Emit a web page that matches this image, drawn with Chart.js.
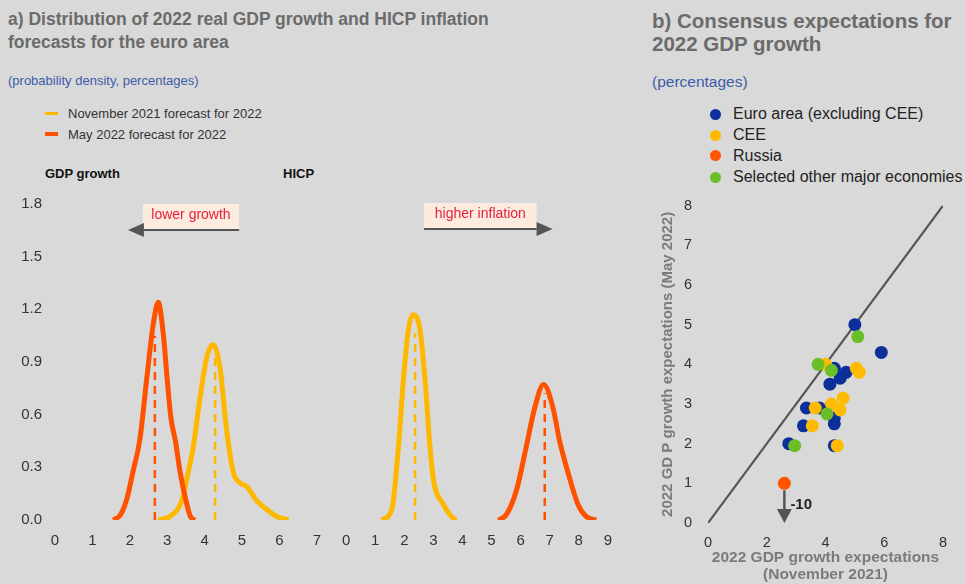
<!DOCTYPE html>
<html>
<head>
<meta charset="utf-8">
<script src="https://cdn.jsdelivr.net/npm/chart.js@4.4.0/dist/chart.umd.min.js"></script>
<style>
  body { margin: 0; width: 965px; height: 584px; overflow: hidden; position: relative;
         background: #d9d9d9; font-family: "Liberation Sans", Arial, sans-serif; }
  .t { position: absolute; white-space: nowrap; }
  canvas { position: absolute; }
  .title { font-weight: bold; color: #6b6b6b; }
  .sub { color: #3d5ca8; }
  .mk { position: absolute; }
</style>
</head>
<body>
<div class="t title" style="left:8px;top:8px;font-size:17.5px;line-height:23px">a) Distribution of 2022 real GDP growth and HICP inflation<br>forecasts for the euro area</div>
<div class="t sub" style="left:8px;top:72px;font-size:13px;line-height:17px">(probability density, percentages)</div>
<div class="mk" style="left:45px;top:111.5px;width:13px;height:3.5px;background:#ffb800"></div>
<div class="t" style="left:68px;top:105px;font-size:13px;line-height:17px;color:#333">November 2021 forecast for 2022</div>
<div class="mk" style="left:45px;top:132px;width:13px;height:3.5px;background:#ff5200"></div>
<div class="t" style="left:68px;top:125.5px;font-size:13px;line-height:17px;color:#333">May 2022 forecast for 2022</div>
<div class="t" style="left:45px;top:164.5px;font-size:13px;line-height:17px;font-weight:bold;color:#111">GDP growth</div>
<div class="t" style="left:283px;top:164.5px;font-size:13px;line-height:17px;font-weight:bold;color:#111">HICP</div>

<div class="t title" style="left:652px;top:9px;font-size:20.5px;line-height:23px">b) Consensus expectations for<br>2022 GDP growth</div>
<div class="t sub" style="left:652px;top:72px;font-size:15.5px;line-height:19px">(percentages)</div>
<div id="legB"></div>

<canvas id="gdp" width="333" height="378" style="left:0;top:182px"></canvas>
<canvas id="hicp" width="294" height="370" style="left:330px;top:190px"></canvas>
<canvas id="cons" width="325" height="403" style="left:640px;top:181px"></canvas>

<script>
// panel a: density curves (x = percentages, y = probability density)
const gdpNovX = [2.76, 3.07, 3.39, 3.52, 3.70, 3.88, 4.06, 4.22, 4.41, 4.59, 4.77, 4.95, 5.13, 5.39, 5.66, 5.93, 6.24];
const gdpNovY = [0, 0.02, 0.11, 0.23, 0.42, 0.70, 0.93, 1.00, 0.87, 0.51, 0.27, 0.21, 0.19, 0.11, 0.06, 0.02, 0];
const gdpMayX = [1.56, 1.75, 1.92, 2.09, 2.27, 2.45, 2.63, 2.76, 2.90, 3.00, 3.10, 3.22, 3.34, 3.48, 3.62, 3.74];
const gdpMayY = [0, 0.03, 0.12, 0.28, 0.46, 0.80, 1.12, 1.24, 1.05, 0.80, 0.58, 0.45, 0.28, 0.13, 0.02, 0];
const hicpNovX = [1.22, 1.57, 1.80, 1.97, 2.14, 2.31, 2.54, 2.71, 2.88, 3.00, 3.34, 3.68, 3.80];
const hicpNovY = [0, 0.06, 0.42, 0.80, 1.08, 1.165, 1.08, 0.80, 0.42, 0.23, 0.09, 0.01, 0];
const hicpMayX = [5.23, 5.51, 5.86, 6.20, 6.49, 6.79, 7.11, 7.34, 7.63, 7.97, 8.26, 8.60];
const hicpMayY = [0, 0.03, 0.17, 0.42, 0.64, 0.77, 0.64, 0.45, 0.27, 0.09, 0.02, 0];
// medians (dashed lines): [x, height]
const gdpNovMedian = [4.28, 0.93];
const gdpMayMedian = [2.67, 1.05];
const hicpNovMedian = [2.37, 1.06];
const hicpMayMedian = [6.83, 0.72];

// panel b: Nov 2021 expectation (x) vs May 2022 expectation (y)
const euroX = [5.0, 5.9, 4.3, 4.5, 4.7, 4.15, 3.35, 3.8, 4.3, 4.3, 3.25, 2.75, 4.3];
const euroY = [5.0, 4.3, 3.9, 3.65, 3.8, 3.5, 2.9, 2.9, 2.65, 2.5, 2.45, 2.0, 1.95];
const ceeX = [4.0, 5.05, 5.15, 4.6, 4.2, 3.65, 4.5, 3.55, 4.4];
const ceeY = [4.0, 3.9, 3.8, 3.15, 3.0, 2.9, 2.85, 2.45, 1.95];
const russiaX = [2.6];
const russiaY = [1.0];
const otherX = [5.1, 3.75, 4.2, 4.05, 2.95];
const otherY = [4.7, 4.0, 3.85, 2.75, 1.95];

const YELLOW = "#ffb800";
const RED = "#ff5200";
const pts = (xs, ys) => xs.map((x, i) => ({ x: x, y: ys[i] }));

function curve(xs, ys, color) {
  return { data: pts(xs, ys), borderColor: color, borderWidth: 5, pointRadius: 0,
           cubicInterpolationMode: "monotone", fill: false };
}
function median(m, color) {
  return { data: [{ x: m[0], y: 0 }, { x: m[0], y: m[1] }], borderColor: color, borderWidth: 2.5,
           borderDash: [8, 6], pointRadius: 0, fill: false };
}

// callout box with arrow ("lower growth" / "higher inflation")
function calloutPlugin(x0, x1, tip, text) {
  return {
    id: "callout",
    afterDatasetsDraw(chart) {
      const ctx = chart.ctx, xs = chart.scales.x, ys = chart.scales.y;
      const l = xs.getPixelForValue(x0), r = xs.getPixelForValue(x1);
      const top = ys.getPixelForValue(1.8), bot = ys.getPixelForValue(1.658);
      const t = xs.getPixelForValue(tip);
      ctx.save();
      ctx.fillStyle = "#fcece0";
      ctx.fillRect(l, top, r - l, bot - top);
      ctx.fillStyle = "#e8203a";
      ctx.font = "14px 'Liberation Sans', Arial, sans-serif";
      ctx.textAlign = "center";
      ctx.textBaseline = "middle";
      ctx.fillText(text, (l + r) / 2, (top + bot) / 2 - 1);
      ctx.strokeStyle = "#555";
      ctx.fillStyle = "#555";
      ctx.lineWidth = 2;
      const ay = bot + 1;
      const hb = t < l ? t + 16 : t - 16;
      ctx.beginPath();
      ctx.moveTo(t < l ? r : l, ay);
      ctx.lineTo(hb, ay);
      ctx.stroke();
      ctx.beginPath();
      ctx.moveTo(t, ay);
      ctx.lineTo(hb, ay - 7);
      ctx.lineTo(hb, ay + 7);
      ctx.closePath();
      ctx.fill();
      ctx.restore();
    }
  };
}

function densityOptions(xMax, showY, pad) {
  const yScale = { display: showY, min: 0, max: 1.8,
           ticks: { stepSize: 0.3, autoSkip: false, padding: 13, color: "#333", font: { size: 15 },
                    callback: v => v.toFixed(1) },
           grid: { display: false, drawTicks: false }, border: { display: false } };
  if (showY) yScale.afterFit = s => { s.width = 55; };
  return {
    responsive: false, animation: false, devicePixelRatio: 1,
    layout: { padding: pad },
    plugins: { legend: { display: false }, tooltip: { enabled: false } },
    scales: {
      x: { type: "linear", min: 0, max: xMax,
           ticks: { stepSize: 1, autoSkip: false, padding: 12, color: "#333", font: { size: 15 } },
           grid: { display: false, drawTicks: false }, border: { display: false },
           afterFit(s) { s.height = 40; } },
      y: yScale
    }
  };
}

new Chart(document.getElementById("gdp"), {
  type: "line",
  data: { datasets: [
    curve(gdpMayX, gdpMayY, RED), curve(gdpNovX, gdpNovY, YELLOW),
    median(gdpMayMedian, RED), median(gdpNovMedian, YELLOW)
  ] },
  options: densityOptions(7, true, { top: 0, right: 0, left: 0, bottom: 0 }),
  plugins: [calloutPlugin(2.35, 4.92, 1.95, "lower growth")]
});

new Chart(document.getElementById("hicp"), {
  type: "line",
  data: { datasets: [
    curve(hicpNovX, hicpNovY, YELLOW), curve(hicpMayX, hicpMayY, RED),
    median(hicpNovMedian, YELLOW), median(hicpMayMedian, RED)
  ] },
  options: densityOptions(9, false, { top: 13, right: 0, left: 0, bottom: 0 }),
  plugins: [calloutPlugin(2.68, 6.55, 7.1, "higher inflation")]
});

// panel b
const BLUE = "#0d2f9b", CEE = "#ffbb00", RUS = "#ff5500", GREEN = "#6abf29";
const groups = [
  { label: "Euro area (excluding CEE)", color: BLUE, xs: euroX, ys: euroY, order: 3 },
  { label: "CEE", color: CEE, xs: ceeX, ys: ceeY, order: 2 },
  { label: "Russia", color: RUS, xs: russiaX, ys: russiaY, order: 1 },
  { label: "Selected other major economies", color: GREEN, xs: otherX, ys: otherY, order: 1 }
];

const legB = document.getElementById("legB");
groups.forEach((g, i) => {
  const cy = [114, 135, 155.5, 177][i];
  legB.insertAdjacentHTML("beforeend",
    `<div class="mk" style="left:709.5px;top:${cy - 5.5}px;width:11px;height:11px;border-radius:50%;background:${g.color}"></div>` +
    `<div class="t" style="left:733px;top:${cy - 10}px;font-size:16px;line-height:19px;color:#222">${g.label}</div>`);
});

const russiaArrow = {
  id: "russiaArrow",
  afterDatasetsDraw(chart) {
    const ctx = chart.ctx, xs = chart.scales.x, ys = chart.scales.y;
    const x = xs.getPixelForValue(russiaX[0]);
    const y0 = ys.getPixelForValue(russiaY[0]) + 7;
    const tip = ys.getPixelForValue(0);
    const hb = tip - 14;
    ctx.save();
    ctx.strokeStyle = "#555";
    ctx.fillStyle = "#555";
    ctx.lineWidth = 2.5;
    ctx.beginPath();
    ctx.moveTo(x, y0);
    ctx.lineTo(x, hb);
    ctx.stroke();
    ctx.beginPath();
    ctx.moveTo(x, tip);
    ctx.lineTo(x - 7.5, hb);
    ctx.lineTo(x + 7.5, hb);
    ctx.closePath();
    ctx.fill();
    ctx.fillStyle = "#222";
    ctx.font = "bold 15px 'Liberation Sans', Arial, sans-serif";
    ctx.textBaseline = "middle";
    ctx.fillText("-10", x + 6, y0 + 15);
    ctx.restore();
  }
};

new Chart(document.getElementById("cons"), {
  type: "scatter",
  data: { datasets: [
    ...groups.map(g => ({ label: g.label, data: pts(g.xs, g.ys), backgroundColor: g.color,
                          borderWidth: 0, pointRadius: 6.5, order: g.order })),
    { type: "line", data: [{ x: 0, y: 0 }, { x: 8, y: 8 }], borderColor: "#555", borderWidth: 2.2,
      pointRadius: 0, order: 5 }
  ] },
  options: {
    responsive: false, animation: false, devicePixelRatio: 1,
    layout: { padding: { top: 0, right: 22, left: 0, bottom: 0 } },
    plugins: { legend: { display: false }, tooltip: { enabled: false } },
    scales: {
      x: { type: "linear", min: 0, max: 8,
           ticks: { stepSize: 2, padding: 11, color: "#333", font: { size: 14.5 } },
           grid: { display: false, drawTicks: false }, border: { display: false },
           title: { display: true, text: ["2022 GDP growth expectations", "(November 2021)"],
                    color: "#7b7b7b", font: { size: 15.5, weight: "bold", lineHeight: 1.15 },
                    padding: { top: 0, bottom: 0 } },
           afterFit(s) { s.height = 61; } },
      y: { min: 0, max: 8,
           ticks: { stepSize: 1, padding: 16, color: "#333", font: { size: 14.5 } },
           grid: { display: false, drawTicks: false }, border: { display: false },
           title: { display: true, text: "2022 GD P growth expectations (May 2022)",
                    color: "#7b7b7b", font: { size: 15, weight: "bold" },
                    padding: { top: 19, bottom: 0 } },
           afterFit(s) { s.width = 68; } }
    }
  },
  plugins: [russiaArrow]
});
</script>
</body>
</html>
